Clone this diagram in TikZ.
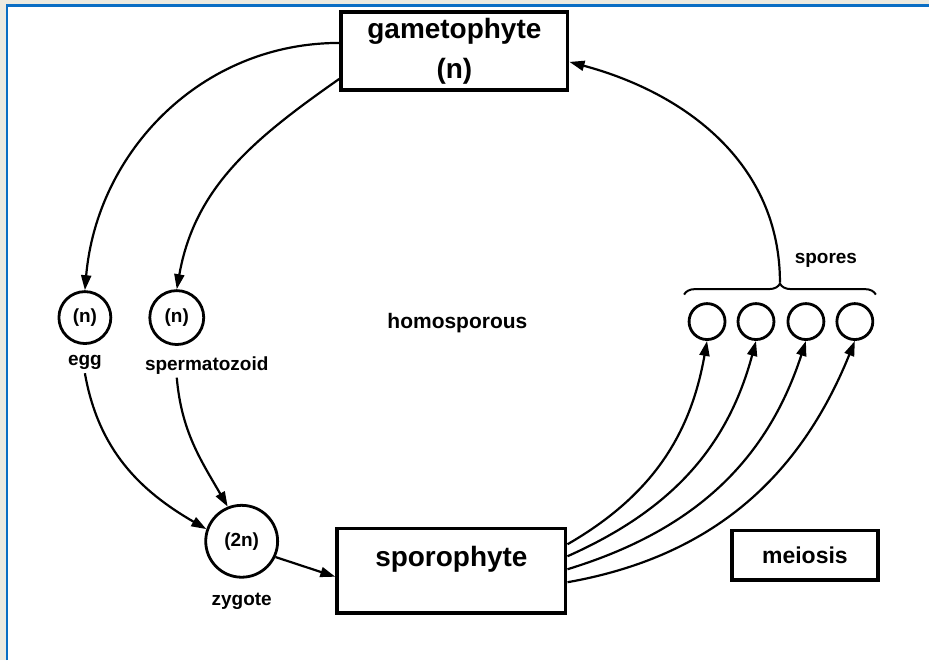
\documentclass[tikz,border=0pt]{standalone}
\usepackage{fontspec}
\setmainfont{Liberation Sans}
\usetikzlibrary{arrows.meta,positioning,decorations.pathreplacing}
\definecolor{framebeige}{HTML}{ECEAE0}
\definecolor{frameblue}{HTML}{0A6EC4}

\begin{document}
\begin{tikzpicture}[x=1pt,y=1pt,>={Triangle[length=15pt,width=10pt]},
    bigbox/.style={draw,rectangle,line width=3.5pt,inner sep=0pt},
    cell/.style={draw,circle,line width=2.8pt,inner sep=0pt},
    big/.style={font=\fontsize{28}{38}\selectfont\bfseries},
    small/.style={font=\fontsize{19}{22}\selectfont\bfseries},
    link/.style={line width=2.2pt}]
    % frame
    \fill[framebeige] (0,0) rectangle (930,661);
    \fill[white] (8,0) rectangle (930,655);
    \draw[frameblue,line width=2.5pt] (7,0) -- (7,655.5) -- (930,655.5);
    \useasboundingbox (0,0) rectangle (930,661);

    \node[bigbox,big,minimum width=227pt,minimum height=76pt] (gamet) at (455,610)
        {\raisebox{-6pt}{\begin{tabular}{@{}c@{}}gametophyte\\[2pt](n)\end{tabular}}};
    \node[cell,small,minimum size=52pt] (egg) at (85,343) {(n)};
    \node[cell,small,minimum size=54pt] (sperm) at (177,343) {(n)};
    \node[small] (egg_txt)   [below=7pt of egg] {egg};
    \node[small] (sperm_txt) [below=7pt of sperm,xshift=30pt] {spermatozoid};
    \node[font=\fontsize{21}{24}\selectfont\bfseries] (homo) at (458,337) {homosporous};
    \node[cell,small,minimum size=72pt] (zyg) at (242,119) {(2n)};
    \node[small] (zyg_txt)   [below=11pt of zyg] {zygote};
    \node[bigbox,big,minimum width=229pt,minimum height=85pt,text height=20pt,text depth=28pt] (spor) at (452,89.5) {sporophyte};
    \node[bigbox,font=\fontsize{23}{26}\selectfont\bfseries,minimum width=146pt,minimum height=50pt] (meio) at (806,105) {meiosis};
    \foreach \i/\x in {1/708,2/757,3/807,4/856}
        \node[cell,minimum size=36pt] (sp\i) at (\x,339) {};
    \draw[decorate,decoration={brace,amplitude=11pt},line width=2pt] (685,366) -- (877,366);
    \coordinate (brace_tip) at (781,378);
    \node[small] (spores_txt) at (827,400) {spores};

    \draw[link,->] ([yshift=8pt]gamet.west) to[out=180,in=85] (egg.north);
    \draw[link,->] ([yshift=-28pt]gamet.west) to[out=215,in=80] (sperm.north);
    \draw[link,->] (egg_txt.south) to[out=-80,in=150] (zyg.161);
    \draw[link,->] (sperm_txt.south -| sperm) to[out=-85,in=120] (zyg.112);
    \draw[link,->] (zyg.-25) -- ([yshift=-6pt]spor.west);
    \foreach \i/\dy/\o/\n in {1/26.5/30/-100,2/14.5/24/-105,3/1.5/17/-108,4/-11.5/10/-112}
        \draw[link,->] ([yshift=\dy pt]spor.east) to[out=\o,in=\n] (sp\i.south);
    \draw[link,->] (brace_tip) to[out=90,in=-15] ([yshift=-11pt]gamet.east);
\end{tikzpicture}
\end{document}
